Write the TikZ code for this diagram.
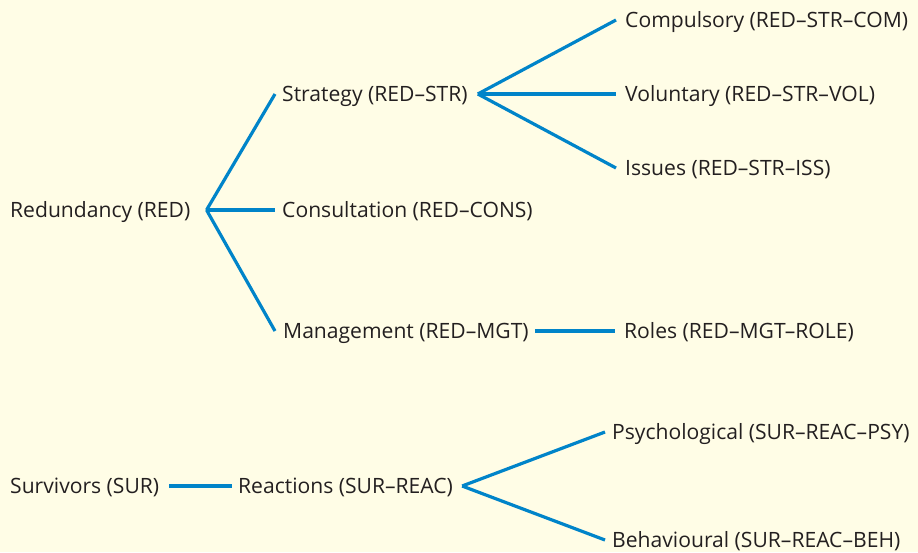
\documentclass[tikz,border=0pt]{standalone}
\usepackage{fontspec}
\setmainfont{Open Sans}
\definecolor{paper}{RGB}{255,253,230}
\definecolor{branch}{RGB}{0,132,201}
\definecolor{ink}{RGB}{35,31,32}

\begin{document}
\begin{tikzpicture}[x=1pt,y=-1pt,
  code/.style={anchor=west,inner sep=0pt,text height=14pt,text depth=0pt,
    text=ink,font=\fontsize{21.1}{25}\selectfont},
  link/.style={draw=branch,line width=3.2pt}]
% 背景
\fill[paper] (0,0) rectangle (918,552);
\useasboundingbox (0,0) rectangle (918,552);
% 第一棵树：RED
\node[code] (red)  at (10,210)  {Redundancy (RED)};
\node[code] (str)  at (282,94)  {Strategy (RED--STR)};
\node[code] (cons) at (282,210) {Consultation (RED--CONS)};
\node[code] (mgt)  at (283,331) {Management (RED--MGT)};
\node[code] (com)  at (625,20)  {Compulsory (RED--STR--COM)};
\node[code] (vol)  at (625,94)  {Voluntary (RED--STR--VOL)};
\node[code] (iss)  at (625,168) {Issues (RED--STR--ISS)};
\node[code] (role) at (624,331) {Roles (RED--MGT--ROLE)};
% 第二棵树：SUR
\node[code] (sur)  at (10,486)  {Survivors (SUR)};
\node[code] (reac) at (238,486) {Reactions (SUR--REAC)};
\node[code] (psy)  at (612,432) {Psychological (SUR--REAC--PSY)};
\node[code] (beh)  at (612,540) {Behavioural (SUR--REAC--BEH)};
% 分叉点
\coordinate (redfork)  at ([xshift=16pt]red.east);
\coordinate (strfork)  at ([xshift=10pt]str.east);
\coordinate (reacfork) at ([xshift=9pt]reac.east);
% 连线
\foreach \to/\gap in {str/7,cons/7,mgt/8}
  \draw[link] (redfork) -- ([xshift=-\gap pt]\to.west);
\foreach \to in {com,vol,iss}
  \draw[link] (strfork) -- ([xshift=-9pt]\to.west);
\draw[link] ([xshift=6pt]mgt.east) -- ([xshift=-9pt]role.west);
\draw[link] ([xshift=10pt]sur.east) -- ([xshift=-6pt]reac.west);
\foreach \to in {psy,beh}
  \draw[link] (reacfork) -- ([xshift=-7pt]\to.west);
\end{tikzpicture}
\end{document}
